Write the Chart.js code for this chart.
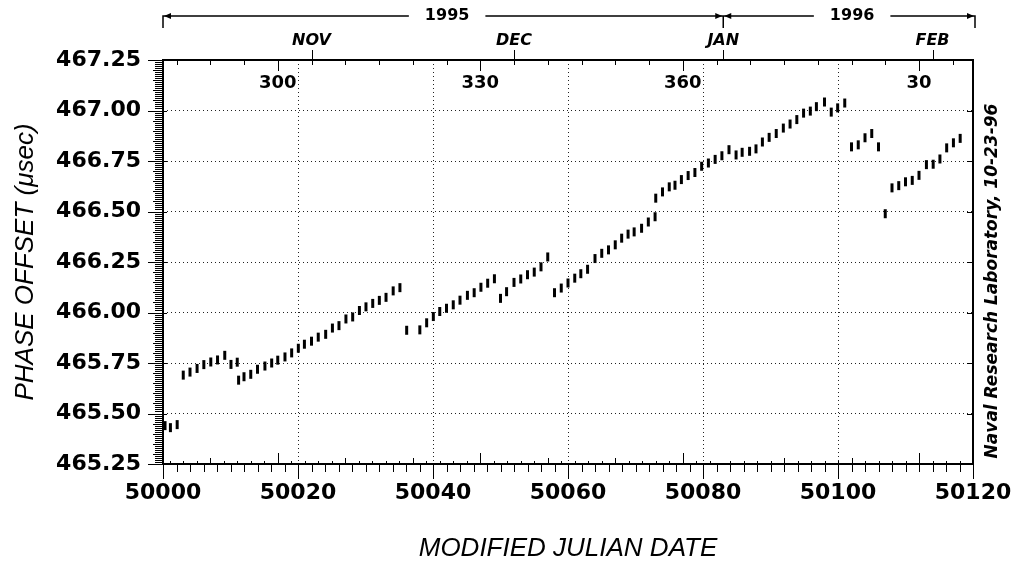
<!DOCTYPE html>
<html>
<head>
<meta charset="utf-8">
<script src="https://cdn.jsdelivr.net/npm/chart.js@4.4.1/dist/chart.umd.min.js"></script>
<style>
  html, body { margin: 0; padding: 0; background: #fff; }
  #wrap { width: 1013px; height: 567px; }
</style>
</head>
<body>
<div id="wrap"><canvas id="c" width="1013" height="567"></canvas></div>
<script>
// ---------------- DATA ----------------
const mjd = [
  50000.3, 50001.1, 50002.1,
  50003.0, 50004.0, 50005.05, 50006.05, 50007.08, 50008.08, 50009.15, 50010.07, 50011.0, 50011.2,
  50012.0, 50013.0, 50014.0, 50015.1, 50016.1, 50017.0, 50018.07, 50019.06, 50020.05, 50020.95,
  50022.0, 50023.0, 50024.1, 50025.1, 50026.07, 50027.1, 50028.1, 50029.1, 50030.07, 50031.07,
  50032.05, 50033.04, 50034.1, 50035.1,
  50036.1, 50038.05, 50039.06, 50040.05, 50041.0, 50042.0, 50043.0, 50044.0, 50045.1, 50046.1,
  50047.1, 50048.1, 50049.1,
  50050.0, 50050.9, 50052.0, 50053.0, 50054.0, 50055.0, 50056.0, 50057.0,
  50058.0, 50059.0, 50060.0, 50061.0, 50061.9, 50062.9, 50064.0, 50065.0, 50066.0, 50067.0,
  50067.95, 50068.9, 50069.8, 50070.9, 50071.9, 50072.9,
  50073.0, 50074.0, 50075.0, 50075.85, 50076.8, 50077.8, 50078.8, 50079.8, 50080.8, 50081.8,
  50082.8, 50083.85, 50084.9, 50085.8, 50086.9, 50087.85, 50088.8, 50089.8, 50090.85, 50091.9,
  50092.9, 50093.9, 50094.9, 50095.9, 50096.8, 50098.0, 50099.0, 50099.95, 50101.0,
  50102.0, 50103.0, 50104.0, 50105.0, 50106.0,
  50107.0,
  50108.0, 50109.0, 50110.0, 50111.0, 50112.0, 50113.1, 50114.1, 50115.1, 50116.1, 50117.1, 50118.1
];
const phaseUsec = [
  465.44, 465.43, 465.445,
  465.69, 465.705, 465.723, 465.742, 465.755, 465.765, 465.788, 465.743, 465.754, 465.665,
  465.682, 465.694, 465.719, 465.735, 465.75, 465.764, 465.78, 465.80, 465.823, 465.843,
  465.858, 465.878, 465.892, 465.923, 465.935, 465.968, 465.978, 466.01, 466.028, 466.045,
  466.06, 466.075, 466.107, 466.123,
  465.912, 465.914, 465.949, 465.98, 466.005, 466.021, 466.038, 466.061, 466.085, 466.098,
  466.125, 466.145, 466.167,
  466.07, 466.103, 466.149, 466.166, 466.187, 466.2, 466.226, 466.275,
  466.098, 466.121, 466.146, 466.17, 466.192, 466.214, 466.267, 466.293, 466.31, 466.335,
  466.368, 466.388, 466.399, 466.417, 466.448, 466.474,
  466.566, 466.597, 466.622, 466.63, 466.658, 466.678, 466.693, 466.724, 466.74, 466.758,
  466.776, 466.806, 466.78, 466.793, 466.798, 466.81, 466.844, 466.867, 466.886, 466.913,
  466.933, 466.955, 466.987, 466.997, 467.019, 467.042, 466.992, 467.013, 467.037,
  466.82, 466.83, 466.865, 466.886, 466.82,
  466.489,
  466.617, 466.628, 466.647, 466.654, 466.679, 466.732, 466.734, 466.76, 466.815, 466.84, 466.862
];

const xTickValues = [50000, 50020, 50040, 50060, 50080, 50100, 50120];
const yTickValues = [465.25, 465.50, 465.75, 466.00, 466.25, 466.50, 466.75, 467.00, 467.25];

// top (day-of-year) axis
const doyLabels = ['300', '330', '360', '30'];
const doyMJD = [50017, 50047, 50077, 50112];
const monthLabels = ['NOV', 'DEC', 'JAN', 'FEB'];
const monthMJD = [50022, 50052, 50083, 50114];
const yearLabels = ['1995', '1996'];
const yearStartMJD = [49718, 50083];
const yearEndMJD = [50083, 50120];

const xTitle = 'MODIFIED JULIAN DATE';
const yTitle = 'PHASE OFFSET (\u03BCsec)';
const creditText = 'Naval Research Laboratory, 10-23-96';

// ---------------- CHART ----------------
const points = mjd.map((m, i) => ({ x: m, y: phaseUsec[i] }));
const NUMFONT = { family: 'DejaVu Sans', size: 22, weight: 'bold' };

function doyOf(m) {
  return m >= yearStartMJD[1] ? m - yearStartMJD[1] + 1 : m - yearStartMJD[0] + 1;
}

const deco = {
  id: 'deco',
  beforeDraw(chart) {
    const c = chart.ctx;
    c.save();
    c.fillStyle = '#fff';
    c.fillRect(0, 0, chart.width, chart.height);
    c.restore();
  },
  afterDraw(chart) {
    const c = chart.ctx;
    const a = chart.chartArea;
    const xs = chart.scales.x, ys = chart.scales.y;
    c.save();
    c.strokeStyle = '#000';
    c.fillStyle = '#000';

    // frame
    c.lineWidth = 2;
    c.strokeRect(a.left, a.top, a.right - a.left, a.bottom - a.top);

    // left axis ruler ticks (every 0.01)
    c.lineWidth = 1;
    c.beginPath();
    for (let k = 0; k <= 200; k++) {
      const v = 465.25 + k * 0.01;
      const py = Math.round(ys.getPixelForValue(v)) + 0.5;
      const major = (k % 25 === 0);
      const mid = (k % 5 === 0);
      c.moveTo(a.left - (major ? 15 : (mid ? 10 : 8)), py);
      c.lineTo(a.left + (major ? 4 : 1), py);
    }
    c.stroke();

    // right axis ticks
    c.beginPath();
    yTickValues.forEach(v => {
      const py = Math.round(ys.getPixelForValue(v)) + 0.5;
      c.moveTo(a.right, py); c.lineTo(a.right - 6, py);
    });
    c.stroke();

    // bottom axis: downward ticks every 2 days
    c.beginPath();
    for (let m = 50000; m <= 50120; m += 2) {
      const px = Math.round(xs.getPixelForValue(m)) + 0.5;
      const len = (m % 20 === 0) ? 15 : 8;
      c.moveTo(px, a.bottom); c.lineTo(px, a.bottom + len);
    }
    // bottom axis: upward ticks at even day-of-year
    for (let m = 50001; m < 50120; m++) {
      const d = doyOf(m);
      if (d % 2 !== 0) continue;
      const px = Math.round(xs.getPixelForValue(m)) + 0.5;
      let len = 3;
      if (d % 10 === 0) len = 6;
      if (doyLabels.includes(String(d))) len = 11;
      c.moveTo(px, a.bottom); c.lineTo(px, a.bottom - len);
    }
    c.stroke();

    // top axis: downward ticks at day-of-year
    c.beginPath();
    for (let m = 50001; m < 50120; m++) {
      const d = doyOf(m);
      const px = Math.round(xs.getPixelForValue(m)) + 0.5;
      let len = 0;
      if (d % 5 === 0) len = 5;
      if (doyLabels.includes(String(d))) len = 11;
      if (len) { c.moveTo(px, a.top); c.lineTo(px, a.top + len); }
    }
    // month ticks upward
    monthMJD.forEach(m => {
      const px = Math.round(xs.getPixelForValue(m)) + 0.5;
      c.moveTo(px, a.top); c.lineTo(px, a.top - 10);
    });
    c.stroke();

    // day-of-year labels
    c.font = 'bold 18px "DejaVu Sans"';
    c.textAlign = 'center';
    c.textBaseline = 'middle';
    doyLabels.forEach((t, i) => {
      c.fillText(t, xs.getPixelForValue(doyMJD[i]), a.top + 23);
    });

    // month labels
    c.font = 'italic bold 16px "DejaVu Sans"';
    monthLabels.forEach((t, i) => {
      c.fillText(t, xs.getPixelForValue(monthMJD[i]), 41);
    });

    // year bracket
    const yb = 16, yd = 28;
    const xL = xs.getPixelForValue(50000), xJ = xs.getPixelForValue(50083), xR = xs.getPixelForValue(50120) + 2;
    c.lineWidth = 1.5;
    c.beginPath();
    c.moveTo(xL, yd); c.lineTo(xL, yb); c.lineTo(xR, yb); c.lineTo(xR, yd);
    c.moveTo(xJ, yb); c.lineTo(xJ, yd);
    c.stroke();
    function arrow(x, dir) {
      c.beginPath();
      c.moveTo(x, yb);
      c.lineTo(x - dir * 7, yb - 3);
      c.lineTo(x - dir * 7, yb + 3);
      c.closePath();
      c.fill();
    }
    arrow(xL + 1, -1);
    arrow(xJ - 1, 1);
    arrow(xJ + 1, -1);
    arrow(xR - 1, 1);
    c.font = 'bold 16px "DejaVu Sans"';
    yearLabels.forEach((t, i) => {
      const cx = xs.getPixelForValue((yearStartMJD[i] === 49718 ? 50000 : yearStartMJD[i]) / 2 + yearEndMJD[i] / 2) + 4;
      const w = c.measureText(t).width;
      c.fillStyle = '#fff';
      c.fillRect(cx - w / 2 - 16, yb - 8, w + 32, 16);
      c.fillStyle = '#000';
      c.fillText(t, cx, yb);
    });

    // axis titles
    c.font = 'italic 26px "Liberation Sans"';
    c.fillText(xTitle, (a.left + a.right) / 2, 549);
    c.save();
    c.translate(26, (a.top + a.bottom) / 2);
    c.rotate(-Math.PI / 2);
    c.fillText(yTitle, 0, 0);
    c.restore();

    // credit
    c.save();
    c.translate(993, 281);
    c.rotate(-Math.PI / 2);
    c.font = 'italic bold 17px "DejaVu Sans"';
    c.fillText(creditText, 0, 0);
    c.restore();

    c.restore();
  }
};

new Chart(document.getElementById('c'), {
  type: 'scatter',
  data: {
    datasets: [{
      data: points,
      pointStyle: 'line',
      rotation: 90,
      radius: 4.5,
      borderWidth: 3,
      borderColor: '#000',
      backgroundColor: '#000'
    }]
  },
  options: {
    responsive: false,
    animation: false,
    devicePixelRatio: 1,
    events: [],
    layout: { padding: { left: 0, right: 40, top: 60, bottom: 0 } },
    plugins: { legend: { display: false }, tooltip: { enabled: false } },
    scales: {
      x: {
        type: 'linear',
        min: 50000, max: 50120,
        afterBuildTicks: s => { s.ticks = xTickValues.map(v => ({ value: v })); },
        afterFit: s => { s.height = 103; s.paddingLeft = 0; s.paddingRight = 0; },
        ticks: {
          font: NUMFONT, color: '#000', padding: 16, maxRotation: 0,
          callback: v => String(v)
        },
        grid: { color: '#222', lineWidth: 1, drawTicks: false },
        border: { display: false, dash: [1, 3] }
      },
      y: {
        type: 'linear',
        min: 465.25, max: 467.25,
        afterBuildTicks: s => { s.ticks = yTickValues.map(v => ({ value: v })); },
        afterFit: s => { s.width = 163; s.paddingTop = 0; s.paddingBottom = 0; },
        ticks: {
          font: NUMFONT, color: '#000', padding: 22,
          callback: v => Number(v).toFixed(2)
        },
        grid: { color: '#222', lineWidth: 1, drawTicks: false },
        border: { display: false, dash: [1, 3] }
      }
    }
  },
  plugins: [deco]
});
</script>
</body>
</html>
